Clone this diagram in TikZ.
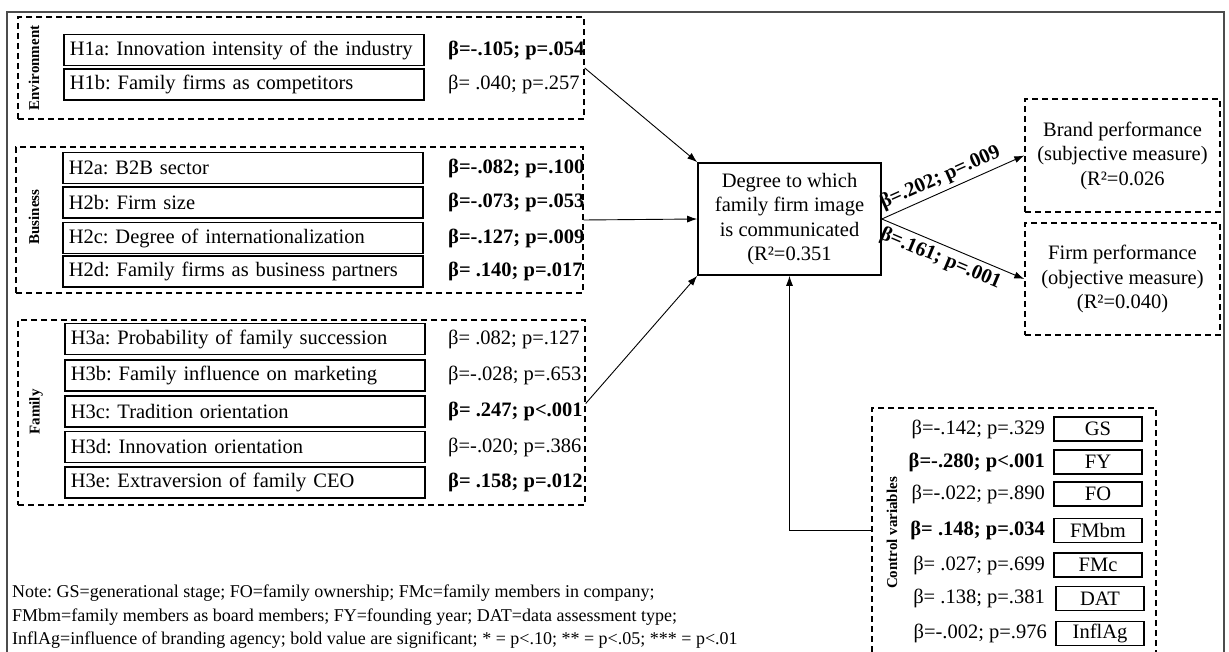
\documentclass[tikz,border=0pt]{standalone}
\usepackage{fontspec}
\setmainfont{Liberation Serif}
\usetikzlibrary{arrows.meta,calc}
\begin{document}
\frenchspacing
\begin{tikzpicture}[x=1pt,y=-1pt,
  every node/.style={font=\fontsize{20.5}{24.5}\selectfont, inner sep=0pt},
  dbox/.style={draw, dash pattern=on 6pt off 4pt, line width=1.4pt},
  hbox/.style={draw, line width=1.6pt, minimum width=360pt, minimum height=31pt, text width=348pt, align=left, anchor=west},
  coef/.style={anchor=west},
  sig/.style={anchor=west, font=\fontsize{20.5}{24.5}\selectfont\bfseries},
  ccoef/.style={anchor=east},
  csig/.style={anchor=east, font=\fontsize{20.5}{24.5}\selectfont\bfseries},
  grp/.style={rotate=90, font=\fontsize{15}{18}\selectfont\bfseries},
  cbox/.style={draw, line width=1.6pt, minimum width=88pt, minimum height=24pt},
  arr/.style={-{Latex[length=10pt,width=7pt]}, line width=0.9pt},
  plab/.style={sloped, font=\fontsize{20.5}{24.5}\selectfont\bfseries},
]
\useasboundingbox (0,0) rectangle (1229,652);
% outer frame
\draw[line width=1.2pt, black!70] (7,652) -- (7,12) -- (1224,12) -- (1224,652);

% group boxes
\node[dbox, minimum width=566pt, minimum height=102pt] (env) at (301,68) {};
\node[dbox, minimum width=567pt, minimum height=146pt] (bus) at (299.5,220) {};
\node[dbox, minimum width=567pt, minimum height=185pt] (fam) at (301.5,412.5) {};
\node[dbox, minimum width=284pt, minimum height=264pt] (ctrl) at (1014,540) {};

\node[grp] (envl) at (34,68) {Environment};
\node[grp] (busl) at (34,217) {Business};
\node[grp] (faml) at (36,412) {Family};
\node[grp] (ctrll) at (892,533) {Control variables};

% hypotheses
\node[hbox] (h1a) at (63,50) {H1a: Innovation intensity of the industry};
\node[hbox] (h1b) at (63,84.5) {H1b: Family firms as competitors};
\node[sig] (b1a) at (448,50) {β=-.105; p=.054};
\node[coef] (b1b) at (448,84.5) {β= .040; p=.257};

\node[hbox] (h2a) at (62,168) {H2a: B2B sector};
\node[hbox] (h2b) at (62,202.5) {H2b: Firm size};
\node[hbox] (h2c) at (62,238) {H2c: Degree of internationalization};
\node[hbox] (h2d) at (62,271.5) {H2d: Family firms as business partners};
\node[sig] (b2a) at (448,168) {β=-.082; p=.100};
\node[sig] (b2b) at (448,202.5) {β=-.073; p=.053};
\node[sig] (b2c) at (448,238) {β=-.127; p=.009};
\node[sig] (b2d) at (448,271.5) {β= .140; p=.017};

\node[hbox] (h3a) at (64,339) {H3a: Probability of family succession};
\node[hbox] (h3b) at (64,375.5) {H3b: Family influence on marketing};
\node[hbox] (h3c) at (64,411.5) {H3c: Tradition orientation};
\node[hbox] (h3d) at (64,447) {H3d: Innovation orientation};
\node[hbox] (h3e) at (64,482.5) {H3e: Extraversion of family CEO};
\node[coef] (b3a) at (448,339) {β= .082; p=.127};
\node[coef] (b3b) at (448,375.5) {β=-.028; p=.653};
\node[sig] (b3c) at (448,411.5) {β= .247; p<.001};
\node[coef] (b3d) at (448,447) {β=-.020; p=.386};
\node[sig] (b3e) at (448,482.5) {β= .158; p=.012};

% central and outcome boxes
\node[draw, line width=1.6pt, minimum width=183pt, minimum height=112pt, align=center] (ctr) at (789.5,219)
  {Degree to which\\family firm image\\is communicated\\(R²=0.351};
\node[dbox, minimum width=195pt, minimum height=113pt, align=center] (brand) at (1122.5,155.5)
  {Brand performance\\(subjective measure)\\(R²=0.026};
\node[dbox, minimum width=195pt, minimum height=112pt, align=center] (firm) at (1122.5,279)
  {Firm performance\\(objective measure)\\(R²=0.040)};

% control variables
\node[cbox] (gs) at (1098,429) {GS};
\node[cbox] (fy) at (1098,462) {FY};
\node[cbox] (fo) at (1098,494) {FO};
\node[cbox] (fmbm) at (1098,530.5) {FMbm};
\node[cbox] (fmc) at (1098,565) {FMc};
\node[cbox] (dat) at (1100,598.5) {DAT};
\node[cbox] (inflag) at (1100,633.5) {InflAg};
\node[ccoef] (cgs) at (1045,429) {β=-.142; p=.329};
\node[csig] (cfy) at (1045,462) {β=-.280; p<.001};
\node[ccoef] (cfo) at (1045,494) {β=-.022; p=.890};
\node[csig] (cfmbm) at (1045,530.5) {β= .148; p=.034};
\node[ccoef] (cfmc) at (1045,565) {β= .027; p=.699};
\node[ccoef] (cdat) at (1045,598.5) {β= .138; p=.381};
\node[ccoef] (cinfl) at (1047,633.5) {β=-.002; p=.976};

% note
\node[anchor=west, align=left, font=\fontsize{18}{23.5}\selectfont] (note) at (12,617)
  {Note: GS=generational stage; FO=family ownership; FMc=family members in company;\\
   FMbm=family members as board members; FY=founding year; DAT=data assessment type;\\
   InflAg=influence of branding agency; bold value are significant; * = p<.10; ** = p<.05; *** = p<.01};

% connectors
\draw[arr] (env.east) -- (ctr.north west);
\draw[arr] (bus.east) -- (ctr.west);
\draw[arr] ([yshift=9pt]fam.east) -- (ctr.south west);
\draw[arr] ([yshift=10pt]ctrl.west) -| (ctr.south);
\draw[arr] (ctr.east) -- node[plab, above=4pt, pos=0.45] {β=.202; p=.009} (brand.west);
\draw[arr] (ctr.east) -- node[plab, below=4pt, pos=0.45] {β=.161; p=.001} (firm.west);
\end{tikzpicture}
\end{document}
